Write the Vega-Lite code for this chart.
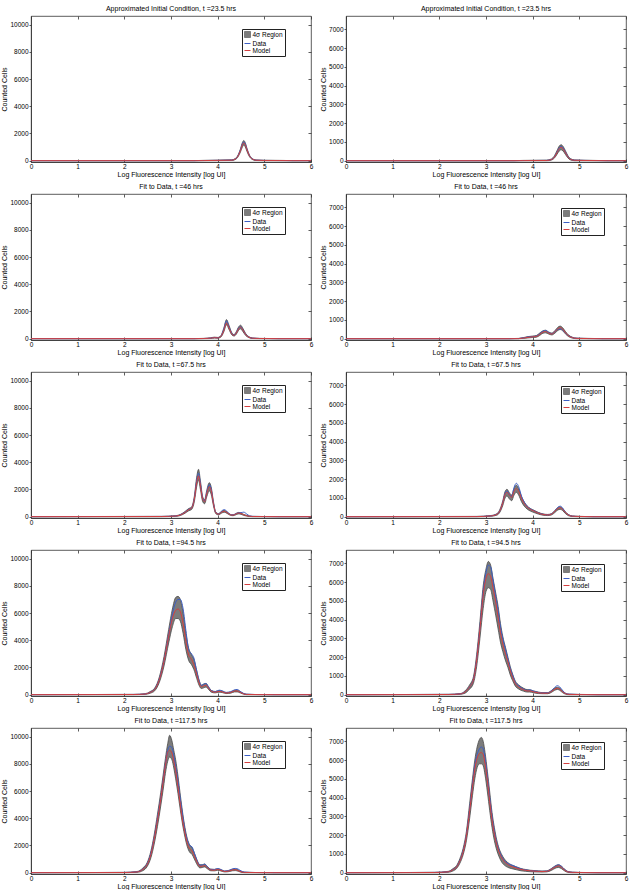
{
"$schema": "https://vega.github.io/schema/vega-lite/v6.json",
"background": "white",
"padding": {"left": 0, "top": 4, "right": 6, "bottom": 0},
"bounds": "flush",
"columns": 2,
"spacing": {"row": 32, "column": 35},
"resolve": {"scale": {"x": "independent", "y": "independent", "color": "independent"}},
"config": {
 "font": "Liberation Sans",
 "view": {"stroke": "#333", "strokeWidth": 0.8},
 "title": {"fontSize": 7, "fontWeight": "normal", "offset": 4, "color": "#000", "font": "Liberation Sans"},
 "axis": {"labelFontSize": 6.5, "titleFontSize": 7, "titleFontWeight": "normal", "grid": false, "domainColor": "#333", "domainWidth": 0.8, "tickColor": "#333", "tickWidth": 0.8, "labelColor": "#000", "titleColor": "#000", "labelFont": "Liberation Sans", "titleFont": "Liberation Sans", "labelOverlap": false, "labelSeparation": 0},
 "axisX": {"tickSize": -3, "labelPadding": 4, "titlePadding": 1, "labelFlush": false},
 "axisY": {"tickSize": 2, "labelPadding": 1, "titlePadding": 2},
 "legend": {"fillColor": "white", "strokeColor": "#222", "padding": 2, "labelFontSize": 6.5, "labelFont": "Liberation Sans", "labelColor": "#000", "symbolSize": 36, "rowPadding": 0, "labelOffset": 1.5, "symbolStrokeWidth": 1}
},
"concat": [
{
 "title": "Approximated Initial Condition, t =23.5 hrs",
 "width": 280, "height": 146,
 "data": {"values": [
  {"x":0,"lo":0,"hi":0,"d":0,"m":0},{"x":3.5,"lo":0,"hi":0,"d":0,"m":0},{"x":3.7,"lo":0,"hi":20,"d":10,"m":5},{"x":4.3,"lo":10,"hi":60,"d":40,"m":30},{"x":4.38,"lo":80,"hi":160,"d":130,"m":120},{"x":4.44,"lo":300,"hi":430,"d":390,"m":360},{"x":4.49,"lo":650,"hi":880,"d":820,"m":760},{"x":4.53,"lo":1000,"hi":1330,"d":1250,"m":1170},{"x":4.56,"lo":1150,"hi":1480,"d":1380,"m":1300},{"x":4.59,"lo":1020,"hi":1330,"d":1260,"m":1180},{"x":4.63,"lo":660,"hi":880,"d":830,"m":780},{"x":4.68,"lo":300,"hi":420,"d":390,"m":370},{"x":4.74,"lo":90,"hi":150,"d":130,"m":120},{"x":4.82,"lo":10,"hi":50,"d":35,"m":30},{"x":5.0,"lo":0,"hi":30,"d":15,"m":10},{"x":5.4,"lo":0,"hi":15,"d":5,"m":5},{"x":5.6,"lo":0,"hi":0,"d":0,"m":0},{"x":6,"lo":0,"hi":0,"d":0,"m":0}
 ]},
 "encoding": {"x": {"field": "x", "type": "quantitative", "scale": {"domain": [0, 6], "nice": false}, "axis": {"title": "Log Fluorescence Intensity [log UI]", "values": [0,1,2,3,4,5,6]}}},
 "resolve": {"axis": {"x": "independent", "y": "independent"}},
 "layer": [
  {"mark": {"type": "area", "interpolate": "monotone", "stroke": "#4a4a4a", "strokeWidth": 0.8, "opacity": 1},
   "encoding": {"y": {"field": "lo", "type": "quantitative", "title": "Counted Cells", "scale": {"domain": [-100, 10640], "nice": false}, "axis": {"values": [0,2000,4000,6000,8000,10000], "format": "d", "labelOverlap": false}}, "y2": {"field": "hi"},
    "color": {"datum": "4σ Region", "scale": {"domain": ["4σ Region", "Data", "Model"], "range": ["#7c7c7c", "#3d5fc4", "#d43f3f"]},
     "legend": {"title": null, "orient": "none", "legendX": 211, "legendY": 13, "encoding": {"symbols": {"shape": {"condition": {"test": "datum.value === '4σ Region'", "value": "square"}, "value": "stroke"}, "fill": {"condition": {"test": "datum.value === '4σ Region'", "value": "#6e6e6e"}, "value": "transparent"}, "stroke": {"condition": [{"test": "datum.value === '4σ Region'", "value": "#222"}, {"test": "datum.value === 'Data'", "value": "#3d5fc4"}], "value": "#d43f3f"}}}}}}},
  {"mark": {"type": "line", "interpolate": "monotone", "strokeWidth": 1}, "encoding": {"x": {"field": "x", "type": "quantitative", "axis": {"orient": "top", "labels": false, "title": null, "domain": false, "tickSize": -3, "values": [0,1,2,3,4,5,6]}}, "y": {"field": "d", "type": "quantitative", "axis": {"orient": "right", "labels": false, "title": null, "domain": false, "tickSize": -3, "values": [0,2000,4000,6000,8000,10000]}}, "color": {"datum": "Data"}}},
  {"mark": {"type": "line", "interpolate": "monotone", "strokeWidth": 1}, "encoding": {"x": {"field": "x", "type": "quantitative", "axis": null}, "y": {"field": "m", "type": "quantitative", "axis": null}, "color": {"datum": "Model"}}}
 ]
},
{
 "title": "Approximated Initial Condition, t =23.5 hrs",
 "width": 280, "height": 146,
 "data": {"values": [
  {"x":0,"lo":0,"hi":0,"d":0,"m":0},{"x":3.6,"lo":0,"hi":0,"d":0,"m":0},{"x":3.8,"lo":0,"hi":15,"d":8,"m":5},{"x":4.3,"lo":0,"hi":30,"d":15,"m":10},{"x":4.4,"lo":30,"hi":90,"d":60,"m":55},{"x":4.47,"lo":150,"hi":280,"d":220,"m":200},{"x":4.52,"lo":330,"hi":530,"d":450,"m":420},{"x":4.57,"lo":520,"hi":780,"d":690,"m":650},{"x":4.61,"lo":580,"hi":850,"d":760,"m":710},{"x":4.65,"lo":520,"hi":770,"d":690,"m":640},{"x":4.7,"lo":340,"hi":540,"d":470,"m":440},{"x":4.75,"lo":160,"hi":290,"d":240,"m":220},{"x":4.81,"lo":40,"hi":110,"d":80,"m":70},{"x":4.9,"lo":0,"hi":40,"d":25,"m":20},{"x":5.1,"lo":0,"hi":25,"d":15,"m":10},{"x":5.4,"lo":0,"hi":10,"d":5,"m":5},{"x":5.6,"lo":0,"hi":0,"d":0,"m":0},{"x":6,"lo":0,"hi":0,"d":0,"m":0}
 ]},
 "encoding": {"x": {"field": "x", "type": "quantitative", "scale": {"domain": [0, 6], "nice": false}, "axis": {"title": "Log Fluorescence Intensity [log UI]", "values": [0,1,2,3,4,5,6]}}},
 "resolve": {"axis": {"x": "independent", "y": "independent"}},
 "layer": [
  {"mark": {"type": "area", "interpolate": "monotone", "stroke": "#4a4a4a", "strokeWidth": 0.8, "opacity": 1},
   "encoding": {"y": {"field": "lo", "type": "quantitative", "title": "Counted Cells", "scale": {"domain": [-70, 7710], "nice": false}, "axis": {"values": [0,1000,2000,3000,4000,5000,6000,7000], "format": "d", "labelOverlap": false}}, "y2": {"field": "hi"},
    "color": {"datum": "4σ Region", "scale": {"domain": ["4σ Region", "Data", "Model"], "range": ["#7c7c7c", "#3d5fc4", "#d43f3f"]}, "legend": null}}},
  {"mark": {"type": "line", "interpolate": "monotone", "strokeWidth": 1}, "encoding": {"x": {"field": "x", "type": "quantitative", "axis": {"orient": "top", "labels": false, "title": null, "domain": false, "tickSize": -3, "values": [0,1,2,3,4,5,6]}}, "y": {"field": "d", "type": "quantitative", "axis": {"orient": "right", "labels": false, "title": null, "domain": false, "tickSize": -3, "values": [0,1000,2000,3000,4000,5000,6000,7000]}}, "color": {"datum": "Data", "legend": null}}},
  {"mark": {"type": "line", "interpolate": "monotone", "strokeWidth": 1}, "encoding": {"x": {"field": "x", "type": "quantitative", "axis": null}, "y": {"field": "m", "type": "quantitative", "axis": null}, "color": {"datum": "Model", "legend": null}}}
 ]
},
{
 "title": "Fit to Data, t =46 hrs",
 "width": 280, "height": 146,
 "data": {"values": [
  {"x":0,"lo":0,"hi":0,"d":0,"m":0},{"x":3.5,"lo":0,"hi":0,"d":0,"m":0},{"x":3.7,"lo":0,"hi":20,"d":10,"m":10},{"x":3.85,"lo":10,"hi":60,"d":40,"m":35},{"x":3.93,"lo":40,"hi":110,"d":80,"m":70},{"x":4.0,"lo":30,"hi":90,"d":60,"m":55},{"x":4.07,"lo":120,"hi":230,"d":180,"m":170},{"x":4.13,"lo":480,"hi":760,"d":680,"m":580},{"x":4.19,"lo":1020,"hi":1400,"d":1310,"m":1150},{"x":4.24,"lo":700,"hi":1000,"d":900,"m":820},{"x":4.3,"lo":290,"hi":460,"d":390,"m":360},{"x":4.35,"lo":190,"hi":300,"d":250,"m":240},{"x":4.4,"lo":330,"hi":520,"d":450,"m":420},{"x":4.45,"lo":620,"hi":870,"d":780,"m":730},{"x":4.49,"lo":720,"hi":990,"d":880,"m":840},{"x":4.54,"lo":520,"hi":760,"d":660,"m":640},{"x":4.6,"lo":230,"hi":380,"d":310,"m":300},{"x":4.67,"lo":70,"hi":140,"d":110,"m":100},{"x":4.75,"lo":10,"hi":50,"d":35,"m":30},{"x":4.9,"lo":0,"hi":20,"d":10,"m":10},{"x":5.1,"lo":0,"hi":10,"d":5,"m":5},{"x":5.3,"lo":0,"hi":0,"d":0,"m":0},{"x":6,"lo":0,"hi":0,"d":0,"m":0}
 ]},
 "encoding": {"x": {"field": "x", "type": "quantitative", "scale": {"domain": [0, 6], "nice": false}, "axis": {"title": "Log Fluorescence Intensity [log UI]", "values": [0,1,2,3,4,5,6]}}},
 "resolve": {"axis": {"x": "independent", "y": "independent"}},
 "layer": [
  {"mark": {"type": "area", "interpolate": "monotone", "stroke": "#4a4a4a", "strokeWidth": 0.8, "opacity": 1},
   "encoding": {"y": {"field": "lo", "type": "quantitative", "title": "Counted Cells", "scale": {"domain": [-100, 10640], "nice": false}, "axis": {"values": [0,2000,4000,6000,8000,10000], "format": "d", "labelOverlap": false}}, "y2": {"field": "hi"},
    "color": {"datum": "4σ Region", "scale": {"domain": ["4σ Region", "Data", "Model"], "range": ["#7c7c7c", "#3d5fc4", "#d43f3f"]},
     "legend": {"title": null, "orient": "none", "legendX": 211, "legendY": 13, "encoding": {"symbols": {"shape": {"condition": {"test": "datum.value === '4σ Region'", "value": "square"}, "value": "stroke"}, "fill": {"condition": {"test": "datum.value === '4σ Region'", "value": "#6e6e6e"}, "value": "transparent"}, "stroke": {"condition": [{"test": "datum.value === '4σ Region'", "value": "#222"}, {"test": "datum.value === 'Data'", "value": "#3d5fc4"}], "value": "#d43f3f"}}}}}}},
  {"mark": {"type": "line", "interpolate": "monotone", "strokeWidth": 1}, "encoding": {"x": {"field": "x", "type": "quantitative", "axis": {"orient": "top", "labels": false, "title": null, "domain": false, "tickSize": -3, "values": [0,1,2,3,4,5,6]}}, "y": {"field": "d", "type": "quantitative", "axis": {"orient": "right", "labels": false, "title": null, "domain": false, "tickSize": -3, "values": [0,2000,4000,6000,8000,10000]}}, "color": {"datum": "Data"}}},
  {"mark": {"type": "line", "interpolate": "monotone", "strokeWidth": 1}, "encoding": {"x": {"field": "x", "type": "quantitative", "axis": null}, "y": {"field": "m", "type": "quantitative", "axis": null}, "color": {"datum": "Model"}}}
 ]
},
{
 "title": "Fit to Data, t =46 hrs",
 "width": 280, "height": 146,
 "data": {"values": [
  {"x":0,"lo":0,"hi":0,"d":0,"m":0},{"x":3.5,"lo":0,"hi":0,"d":0,"m":0},{"x":3.7,"lo":0,"hi":15,"d":8,"m":5},{"x":3.9,"lo":40,"hi":110,"d":90,"m":70},{"x":4.0,"lo":60,"hi":140,"d":110,"m":100},{"x":4.08,"lo":80,"hi":170,"d":140,"m":120},{"x":4.15,"lo":170,"hi":300,"d":260,"m":230},{"x":4.22,"lo":290,"hi":420,"d":400,"m":350},{"x":4.28,"lo":310,"hi":450,"d":440,"m":380},{"x":4.34,"lo":250,"hi":360,"d":340,"m":300},{"x":4.41,"lo":200,"hi":300,"d":270,"m":250},{"x":4.48,"lo":300,"hi":440,"d":390,"m":380},{"x":4.54,"lo":440,"hi":610,"d":500,"m":530},{"x":4.59,"lo":490,"hi":670,"d":530,"m":590},{"x":4.64,"lo":430,"hi":590,"d":470,"m":520},{"x":4.7,"lo":260,"hi":390,"d":320,"m":330},{"x":4.77,"lo":110,"hi":190,"d":160,"m":150},{"x":4.85,"lo":30,"hi":80,"d":60,"m":55},{"x":4.95,"lo":0,"hi":30,"d":20,"m":15},{"x":5.2,"lo":0,"hi":15,"d":8,"m":5},{"x":5.5,"lo":0,"hi":0,"d":0,"m":0},{"x":6,"lo":0,"hi":0,"d":0,"m":0}
 ]},
 "encoding": {"x": {"field": "x", "type": "quantitative", "scale": {"domain": [0, 6], "nice": false}, "axis": {"title": "Log Fluorescence Intensity [log UI]", "values": [0,1,2,3,4,5,6]}}},
 "resolve": {"axis": {"x": "independent", "y": "independent"}},
 "layer": [
  {"mark": {"type": "area", "interpolate": "monotone", "stroke": "#4a4a4a", "strokeWidth": 0.8, "opacity": 1},
   "encoding": {"y": {"field": "lo", "type": "quantitative", "title": "Counted Cells", "scale": {"domain": [-70, 7710], "nice": false}, "axis": {"values": [0,1000,2000,3000,4000,5000,6000,7000], "format": "d", "labelOverlap": false}}, "y2": {"field": "hi"},
    "color": {"datum": "4σ Region", "scale": {"domain": ["4σ Region", "Data", "Model"], "range": ["#7c7c7c", "#3d5fc4", "#d43f3f"]},
     "legend": {"title": null, "orient": "none", "legendX": 215, "legendY": 14, "encoding": {"symbols": {"shape": {"condition": {"test": "datum.value === '4σ Region'", "value": "square"}, "value": "stroke"}, "fill": {"condition": {"test": "datum.value === '4σ Region'", "value": "#6e6e6e"}, "value": "transparent"}, "stroke": {"condition": [{"test": "datum.value === '4σ Region'", "value": "#222"}, {"test": "datum.value === 'Data'", "value": "#3d5fc4"}], "value": "#d43f3f"}}}}}}},
  {"mark": {"type": "line", "interpolate": "monotone", "strokeWidth": 1}, "encoding": {"x": {"field": "x", "type": "quantitative", "axis": {"orient": "top", "labels": false, "title": null, "domain": false, "tickSize": -3, "values": [0,1,2,3,4,5,6]}}, "y": {"field": "d", "type": "quantitative", "axis": {"orient": "right", "labels": false, "title": null, "domain": false, "tickSize": -3, "values": [0,1000,2000,3000,4000,5000,6000,7000]}}, "color": {"datum": "Data"}}},
  {"mark": {"type": "line", "interpolate": "monotone", "strokeWidth": 1}, "encoding": {"x": {"field": "x", "type": "quantitative", "axis": null}, "y": {"field": "m", "type": "quantitative", "axis": null}, "color": {"datum": "Model"}}}
 ]
},
{
 "title": "Fit to Data, t =67.5 hrs",
 "width": 280, "height": 146,
 "data": {"values": [
  {"x":0,"lo":0,"hi":0,"d":0,"m":0},{"x":2.8,"lo":0,"hi":20,"d":15,"m":10},{"x":3.1,"lo":20,"hi":70,"d":50,"m":45},{"x":3.2,"lo":80,"hi":160,"d":130,"m":120},{"x":3.3,"lo":250,"hi":380,"d":330,"m":310},{"x":3.38,"lo":430,"hi":600,"d":540,"m":520},{"x":3.44,"lo":520,"hi":700,"d":640,"m":620},{"x":3.5,"lo":1100,"hi":1500,"d":1350,"m":1300},{"x":3.55,"lo":2200,"hi":2900,"d":2650,"m":2500},{"x":3.59,"lo":2700,"hi":3480,"d":3200,"m":3000},{"x":3.63,"lo":2000,"hi":2650,"d":2450,"m":2300},{"x":3.68,"lo":1100,"hi":1450,"d":1350,"m":1280},{"x":3.72,"lo":950,"hi":1250,"d":1150,"m":1100},{"x":3.77,"lo":1500,"hi":2000,"d":1850,"m":1750},{"x":3.82,"lo":1900,"hi":2500,"d":2350,"m":2200},{"x":3.86,"lo":1650,"hi":2200,"d":2050,"m":1950},{"x":3.91,"lo":800,"hi":1100,"d":1000,"m":950},{"x":3.96,"lo":220,"hi":330,"d":300,"m":280},{"x":4.02,"lo":130,"hi":220,"d":190,"m":180},{"x":4.08,"lo":250,"hi":380,"d":400,"m":320},{"x":4.14,"lo":330,"hi":460,"d":520,"m":400},{"x":4.2,"lo":240,"hi":350,"d":380,"m":300},{"x":4.27,"lo":100,"hi":170,"d":160,"m":140},{"x":4.33,"lo":70,"hi":130,"d":130,"m":110},{"x":4.4,"lo":150,"hi":250,"d":230,"m":210},{"x":4.45,"lo":200,"hi":310,"d":280,"m":260},{"x":4.5,"lo":170,"hi":270,"d":290,"m":230},{"x":4.56,"lo":90,"hi":160,"d":330,"m":140},{"x":4.62,"lo":40,"hi":90,"d":200,"m":70},{"x":4.68,"lo":10,"hi":40,"d":60,"m":30},{"x":4.75,"lo":0,"hi":20,"d":20,"m":10},{"x":5.0,"lo":0,"hi":10,"d":5,"m":5},{"x":5.3,"lo":0,"hi":0,"d":0,"m":0},{"x":6,"lo":0,"hi":0,"d":0,"m":0}
 ]},
 "encoding": {"x": {"field": "x", "type": "quantitative", "scale": {"domain": [0, 6], "nice": false}, "axis": {"title": "Log Fluorescence Intensity [log UI]", "values": [0,1,2,3,4,5,6]}}},
 "resolve": {"axis": {"x": "independent", "y": "independent"}},
 "layer": [
  {"mark": {"type": "area", "interpolate": "monotone", "stroke": "#4a4a4a", "strokeWidth": 0.8, "opacity": 1},
   "encoding": {"y": {"field": "lo", "type": "quantitative", "title": "Counted Cells", "scale": {"domain": [-100, 10640], "nice": false}, "axis": {"values": [0,2000,4000,6000,8000,10000], "format": "d", "labelOverlap": false}}, "y2": {"field": "hi"},
    "color": {"datum": "4σ Region", "scale": {"domain": ["4σ Region", "Data", "Model"], "range": ["#7c7c7c", "#3d5fc4", "#d43f3f"]},
     "legend": {"title": null, "orient": "none", "legendX": 211, "legendY": 13, "encoding": {"symbols": {"shape": {"condition": {"test": "datum.value === '4σ Region'", "value": "square"}, "value": "stroke"}, "fill": {"condition": {"test": "datum.value === '4σ Region'", "value": "#6e6e6e"}, "value": "transparent"}, "stroke": {"condition": [{"test": "datum.value === '4σ Region'", "value": "#222"}, {"test": "datum.value === 'Data'", "value": "#3d5fc4"}], "value": "#d43f3f"}}}}}}},
  {"mark": {"type": "line", "interpolate": "monotone", "strokeWidth": 1}, "encoding": {"x": {"field": "x", "type": "quantitative", "axis": {"orient": "top", "labels": false, "title": null, "domain": false, "tickSize": -3, "values": [0,1,2,3,4,5,6]}}, "y": {"field": "d", "type": "quantitative", "axis": {"orient": "right", "labels": false, "title": null, "domain": false, "tickSize": -3, "values": [0,2000,4000,6000,8000,10000]}}, "color": {"datum": "Data"}}},
  {"mark": {"type": "line", "interpolate": "monotone", "strokeWidth": 1}, "encoding": {"x": {"field": "x", "type": "quantitative", "axis": null}, "y": {"field": "m", "type": "quantitative", "axis": null}, "color": {"datum": "Model"}}}
 ]
},
{
 "title": "Fit to Data, t =67.5 hrs",
 "width": 280, "height": 146,
 "data": {"values": [
  {"x":0,"lo":0,"hi":0,"d":0,"m":0},{"x":2.8,"lo":0,"hi":15,"d":10,"m":5},{"x":3.1,"lo":20,"hi":60,"d":45,"m":40},{"x":3.24,"lo":90,"hi":170,"d":140,"m":130},{"x":3.3,"lo":250,"hi":400,"d":340,"m":330},{"x":3.36,"lo":600,"hi":850,"d":760,"m":740},{"x":3.41,"lo":1000,"hi":1350,"d":1250,"m":1200},{"x":3.45,"lo":1100,"hi":1460,"d":1380,"m":1300},{"x":3.5,"lo":950,"hi":1280,"d":1180,"m":1150},{"x":3.55,"lo":850,"hi":1150,"d":1080,"m":1030},{"x":3.6,"lo":1150,"hi":1500,"d":1550,"m":1350},{"x":3.65,"lo":1300,"hi":1680,"d":1780,"m":1500},{"x":3.7,"lo":1150,"hi":1500,"d":1600,"m":1350},{"x":3.76,"lo":800,"hi":1080,"d":1100,"m":980},{"x":3.82,"lo":560,"hi":780,"d":780,"m":700},{"x":3.88,"lo":410,"hi":580,"d":560,"m":520},{"x":3.95,"lo":300,"hi":440,"d":420,"m":390},{"x":4.03,"lo":220,"hi":340,"d":320,"m":300},{"x":4.12,"lo":140,"hi":230,"d":200,"m":190},{"x":4.22,"lo":80,"hi":150,"d":130,"m":120},{"x":4.32,"lo":60,"hi":120,"d":100,"m":95},{"x":4.4,"lo":90,"hi":160,"d":140,"m":130},{"x":4.48,"lo":230,"hi":340,"d":320,"m":300},{"x":4.54,"lo":360,"hi":490,"d":500,"m":440},{"x":4.59,"lo":390,"hi":520,"d":560,"m":470},{"x":4.64,"lo":330,"hi":450,"d":470,"m":400},{"x":4.7,"lo":170,"hi":260,"d":240,"m":230},{"x":4.77,"lo":50,"hi":110,"d":90,"m":85},{"x":4.85,"lo":10,"hi":40,"d":30,"m":25},{"x":5.0,"lo":0,"hi":20,"d":10,"m":10},{"x":5.3,"lo":0,"hi":0,"d":0,"m":0},{"x":6,"lo":0,"hi":0,"d":0,"m":0}
 ]},
 "encoding": {"x": {"field": "x", "type": "quantitative", "scale": {"domain": [0, 6], "nice": false}, "axis": {"title": "Log Fluorescence Intensity [log UI]", "values": [0,1,2,3,4,5,6]}}},
 "resolve": {"axis": {"x": "independent", "y": "independent"}},
 "layer": [
  {"mark": {"type": "area", "interpolate": "monotone", "stroke": "#4a4a4a", "strokeWidth": 0.8, "opacity": 1},
   "encoding": {"y": {"field": "lo", "type": "quantitative", "title": "Counted Cells", "scale": {"domain": [-70, 7710], "nice": false}, "axis": {"values": [0,1000,2000,3000,4000,5000,6000,7000], "format": "d", "labelOverlap": false}}, "y2": {"field": "hi"},
    "color": {"datum": "4σ Region", "scale": {"domain": ["4σ Region", "Data", "Model"], "range": ["#7c7c7c", "#3d5fc4", "#d43f3f"]},
     "legend": {"title": null, "orient": "none", "legendX": 215, "legendY": 14, "encoding": {"symbols": {"shape": {"condition": {"test": "datum.value === '4σ Region'", "value": "square"}, "value": "stroke"}, "fill": {"condition": {"test": "datum.value === '4σ Region'", "value": "#6e6e6e"}, "value": "transparent"}, "stroke": {"condition": [{"test": "datum.value === '4σ Region'", "value": "#222"}, {"test": "datum.value === 'Data'", "value": "#3d5fc4"}], "value": "#d43f3f"}}}}}}},
  {"mark": {"type": "line", "interpolate": "monotone", "strokeWidth": 1}, "encoding": {"x": {"field": "x", "type": "quantitative", "axis": {"orient": "top", "labels": false, "title": null, "domain": false, "tickSize": -3, "values": [0,1,2,3,4,5,6]}}, "y": {"field": "d", "type": "quantitative", "axis": {"orient": "right", "labels": false, "title": null, "domain": false, "tickSize": -3, "values": [0,1000,2000,3000,4000,5000,6000,7000]}}, "color": {"datum": "Data"}}},
  {"mark": {"type": "line", "interpolate": "monotone", "strokeWidth": 1}, "encoding": {"x": {"field": "x", "type": "quantitative", "axis": null}, "y": {"field": "m", "type": "quantitative", "axis": null}, "color": {"datum": "Model"}}}
 ]
},
{
 "title": "Fit to Data, t =94.5 hrs",
 "width": 280, "height": 146,
 "data": {"values": [
  {"x":0,"lo":0,"hi":0,"d":0,"m":0},{"x":1.4,"lo":0,"hi":10,"d":10,"m":5},{"x":2.2,"lo":0,"hi":20,"d":15,"m":10},{"x":2.45,"lo":20,"hi":70,"d":50,"m":45},{"x":2.55,"lo":100,"hi":220,"d":170,"m":160},{"x":2.65,"lo":280,"hi":480,"d":400,"m":380},{"x":2.75,"lo":900,"hi":1300,"d":1150,"m":1100},{"x":2.85,"lo":2100,"hi":2800,"d":2500,"m":2450},{"x":2.95,"lo":3800,"hi":4800,"d":4400,"m":4300},{"x":3.03,"lo":5000,"hi":6300,"d":5900,"m":5600},{"x":3.1,"lo":5600,"hi":7150,"d":6800,"m":6200},{"x":3.15,"lo":5600,"hi":7230,"d":7000,"m":6300},{"x":3.2,"lo":5400,"hi":7000,"d":7000,"m":6100},{"x":3.26,"lo":4500,"hi":6000,"d":6300,"m":5200},{"x":3.32,"lo":3300,"hi":4500,"d":4700,"m":3900},{"x":3.38,"lo":2500,"hi":3400,"d":3300,"m":2900},{"x":3.44,"lo":2200,"hi":2950,"d":3000,"m":2600},{"x":3.49,"lo":1850,"hi":2600,"d":2700,"m":2200},{"x":3.55,"lo":1200,"hi":1800,"d":1750,"m":1500},{"x":3.6,"lo":700,"hi":1100,"d":1050,"m":900},{"x":3.65,"lo":450,"hi":700,"d":680,"m":580},{"x":3.7,"lo":500,"hi":780,"d":760,"m":640},{"x":3.75,"lo":560,"hi":830,"d":820,"m":700},{"x":3.8,"lo":400,"hi":600,"d":580,"m":500},{"x":3.87,"lo":170,"hi":300,"d":280,"m":240},{"x":3.95,"lo":130,"hi":230,"d":220,"m":180},{"x":4.03,"lo":180,"hi":300,"d":330,"m":240},{"x":4.1,"lo":150,"hi":250,"d":280,"m":200},{"x":4.18,"lo":80,"hi":160,"d":160,"m":120},{"x":4.28,"lo":110,"hi":200,"d":220,"m":160},{"x":4.36,"lo":200,"hi":320,"d":350,"m":270},{"x":4.42,"lo":200,"hi":330,"d":380,"m":270},{"x":4.48,"lo":130,"hi":230,"d":250,"m":180},{"x":4.55,"lo":40,"hi":90,"d":100,"m":60},{"x":4.62,"lo":0,"hi":30,"d":30,"m":15},{"x":4.8,"lo":0,"hi":10,"d":10,"m":5},{"x":5.2,"lo":0,"hi":0,"d":0,"m":0},{"x":6,"lo":0,"hi":0,"d":0,"m":0}
 ]},
 "encoding": {"x": {"field": "x", "type": "quantitative", "scale": {"domain": [0, 6], "nice": false}, "axis": {"title": "Log Fluorescence Intensity [log UI]", "values": [0,1,2,3,4,5,6]}}},
 "resolve": {"axis": {"x": "independent", "y": "independent"}},
 "layer": [
  {"mark": {"type": "area", "interpolate": "monotone", "stroke": "#4a4a4a", "strokeWidth": 0.8, "opacity": 1},
   "encoding": {"y": {"field": "lo", "type": "quantitative", "title": "Counted Cells", "scale": {"domain": [-100, 10640], "nice": false}, "axis": {"values": [0,2000,4000,6000,8000,10000], "format": "d", "labelOverlap": false}}, "y2": {"field": "hi"},
    "color": {"datum": "4σ Region", "scale": {"domain": ["4σ Region", "Data", "Model"], "range": ["#7c7c7c", "#3d5fc4", "#d43f3f"]},
     "legend": {"title": null, "orient": "none", "legendX": 211, "legendY": 13, "encoding": {"symbols": {"shape": {"condition": {"test": "datum.value === '4σ Region'", "value": "square"}, "value": "stroke"}, "fill": {"condition": {"test": "datum.value === '4σ Region'", "value": "#6e6e6e"}, "value": "transparent"}, "stroke": {"condition": [{"test": "datum.value === '4σ Region'", "value": "#222"}, {"test": "datum.value === 'Data'", "value": "#3d5fc4"}], "value": "#d43f3f"}}}}}}},
  {"mark": {"type": "line", "interpolate": "monotone", "strokeWidth": 1}, "encoding": {"x": {"field": "x", "type": "quantitative", "axis": {"orient": "top", "labels": false, "title": null, "domain": false, "tickSize": -3, "values": [0,1,2,3,4,5,6]}}, "y": {"field": "d", "type": "quantitative", "axis": {"orient": "right", "labels": false, "title": null, "domain": false, "tickSize": -3, "values": [0,2000,4000,6000,8000,10000]}}, "color": {"datum": "Data"}}},
  {"mark": {"type": "line", "interpolate": "monotone", "strokeWidth": 1}, "encoding": {"x": {"field": "x", "type": "quantitative", "axis": null}, "y": {"field": "m", "type": "quantitative", "axis": null}, "color": {"datum": "Model"}}}
 ]
},
{
 "title": "Fit to Data, t =94.5 hrs",
 "width": 280, "height": 146,
 "data": {"values": [
  {"x":0,"lo":0,"hi":0,"d":0,"m":0},{"x":1.4,"lo":0,"hi":10,"d":10,"m":5},{"x":2.2,"lo":0,"hi":20,"d":15,"m":10},{"x":2.45,"lo":20,"hi":60,"d":45,"m":40},{"x":2.55,"lo":80,"hi":200,"d":150,"m":140},{"x":2.65,"lo":300,"hi":530,"d":430,"m":420},{"x":2.73,"lo":600,"hi":950,"d":800,"m":780},{"x":2.8,"lo":1500,"hi":2150,"d":1900,"m":1850},{"x":2.87,"lo":3000,"hi":3900,"d":3600,"m":3500},{"x":2.94,"lo":4600,"hi":5800,"d":5500,"m":5300},{"x":3.0,"lo":5500,"hi":6700,"d":6500,"m":6200},{"x":3.05,"lo":5700,"hi":7100,"d":6900,"m":6450},{"x":3.1,"lo":5600,"hi":6900,"d":6800,"m":6300},{"x":3.15,"lo":5000,"hi":6200,"d":6100,"m":5700},{"x":3.21,"lo":4200,"hi":5400,"d":5200,"m":4900},{"x":3.26,"lo":3500,"hi":4700,"d":4500,"m":4100},{"x":3.31,"lo":2800,"hi":3800,"d":3600,"m":3300},{"x":3.36,"lo":2300,"hi":3100,"d":3000,"m":2700},{"x":3.42,"lo":1800,"hi":2500,"d":2400,"m":2150},{"x":3.47,"lo":1450,"hi":2000,"d":1900,"m":1750},{"x":3.52,"lo":1050,"hi":1500,"d":1400,"m":1280},{"x":3.57,"lo":750,"hi":1100,"d":1050,"m":920},{"x":3.63,"lo":450,"hi":720,"d":650,"m":580},{"x":3.7,"lo":300,"hi":520,"d":480,"m":400},{"x":3.8,"lo":190,"hi":350,"d":300,"m":270},{"x":3.88,"lo":140,"hi":270,"d":230,"m":200},{"x":3.94,"lo":140,"hi":260,"d":260,"m":200},{"x":4.02,"lo":100,"hi":200,"d":190,"m":150},{"x":4.12,"lo":60,"hi":140,"d":120,"m":100},{"x":4.22,"lo":50,"hi":110,"d":90,"m":80},{"x":4.32,"lo":50,"hi":110,"d":100,"m":80},{"x":4.4,"lo":120,"hi":220,"d":200,"m":170},{"x":4.47,"lo":230,"hi":350,"d":380,"m":290},{"x":4.53,"lo":280,"hi":400,"d":480,"m":340},{"x":4.58,"lo":230,"hi":350,"d":410,"m":290},{"x":4.64,"lo":110,"hi":200,"d":230,"m":160},{"x":4.7,"lo":30,"hi":80,"d":80,"m":60},{"x":4.78,"lo":0,"hi":30,"d":25,"m":15},{"x":5.0,"lo":0,"hi":15,"d":10,"m":5},{"x":5.4,"lo":0,"hi":0,"d":0,"m":0},{"x":6,"lo":0,"hi":0,"d":0,"m":0}
 ]},
 "encoding": {"x": {"field": "x", "type": "quantitative", "scale": {"domain": [0, 6], "nice": false}, "axis": {"title": "Log Fluorescence Intensity [log UI]", "values": [0,1,2,3,4,5,6]}}},
 "resolve": {"axis": {"x": "independent", "y": "independent"}},
 "layer": [
  {"mark": {"type": "area", "interpolate": "monotone", "stroke": "#4a4a4a", "strokeWidth": 0.8, "opacity": 1},
   "encoding": {"y": {"field": "lo", "type": "quantitative", "title": "Counted Cells", "scale": {"domain": [-70, 7710], "nice": false}, "axis": {"values": [0,1000,2000,3000,4000,5000,6000,7000], "format": "d", "labelOverlap": false}}, "y2": {"field": "hi"},
    "color": {"datum": "4σ Region", "scale": {"domain": ["4σ Region", "Data", "Model"], "range": ["#7c7c7c", "#3d5fc4", "#d43f3f"]},
     "legend": {"title": null, "orient": "none", "legendX": 215, "legendY": 14, "encoding": {"symbols": {"shape": {"condition": {"test": "datum.value === '4σ Region'", "value": "square"}, "value": "stroke"}, "fill": {"condition": {"test": "datum.value === '4σ Region'", "value": "#6e6e6e"}, "value": "transparent"}, "stroke": {"condition": [{"test": "datum.value === '4σ Region'", "value": "#222"}, {"test": "datum.value === 'Data'", "value": "#3d5fc4"}], "value": "#d43f3f"}}}}}}},
  {"mark": {"type": "line", "interpolate": "monotone", "strokeWidth": 1}, "encoding": {"x": {"field": "x", "type": "quantitative", "axis": {"orient": "top", "labels": false, "title": null, "domain": false, "tickSize": -3, "values": [0,1,2,3,4,5,6]}}, "y": {"field": "d", "type": "quantitative", "axis": {"orient": "right", "labels": false, "title": null, "domain": false, "tickSize": -3, "values": [0,1000,2000,3000,4000,5000,6000,7000]}}, "color": {"datum": "Data"}}},
  {"mark": {"type": "line", "interpolate": "monotone", "strokeWidth": 1}, "encoding": {"x": {"field": "x", "type": "quantitative", "axis": null}, "y": {"field": "m", "type": "quantitative", "axis": null}, "color": {"datum": "Model"}}}
 ]
},
{
 "title": "Fit to Data, t =117.5 hrs",
 "width": 280, "height": 146,
 "data": {"values": [
  {"x":0,"lo":0,"hi":0,"d":0,"m":0},{"x":1.4,"lo":0,"hi":10,"d":10,"m":5},{"x":2.0,"lo":0,"hi":20,"d":15,"m":10},{"x":2.27,"lo":20,"hi":80,"d":60,"m":50},{"x":2.4,"lo":150,"hi":350,"d":280,"m":250},{"x":2.49,"lo":450,"hi":750,"d":650,"m":600},{"x":2.57,"lo":1100,"hi":1600,"d":1450,"m":1350},{"x":2.64,"lo":2100,"hi":2800,"d":2550,"m":2450},{"x":2.71,"lo":3400,"hi":4300,"d":4000,"m":3850},{"x":2.78,"lo":4900,"hi":5900,"d":5500,"m":5400},{"x":2.84,"lo":6300,"hi":7400,"d":7000,"m":6900},{"x":2.88,"lo":7300,"hi":8400,"d":8000,"m":7900},{"x":2.93,"lo":8200,"hi":9500,"d":9000,"m":8850},{"x":2.97,"lo":8500,"hi":10100,"d":9300,"m":9000},{"x":3.02,"lo":8300,"hi":9700,"d":9200,"m":8800},{"x":3.06,"lo":7700,"hi":9000,"d":8600,"m":8200},{"x":3.1,"lo":6900,"hi":8300,"d":7800,"m":7500},{"x":3.15,"lo":5800,"hi":7100,"d":6700,"m":6300},{"x":3.2,"lo":4600,"hi":5700,"d":5400,"m":5000},{"x":3.25,"lo":3500,"hi":4400,"d":4200,"m":3800},{"x":3.3,"lo":2600,"hi":3300,"d":3100,"m":2900},{"x":3.35,"lo":1900,"hi":2500,"d":2400,"m":2150},{"x":3.4,"lo":1500,"hi":2050,"d":2000,"m":1750},{"x":3.45,"lo":1350,"hi":1850,"d":1900,"m":1600},{"x":3.5,"lo":1000,"hi":1450,"d":1450,"m":1200},{"x":3.55,"lo":650,"hi":1000,"d":950,"m":830},{"x":3.62,"lo":350,"hi":580,"d":540,"m":460},{"x":3.67,"lo":380,"hi":580,"d":560,"m":470},{"x":3.72,"lo":420,"hi":640,"d":620,"m":520},{"x":3.78,"lo":280,"hi":450,"d":430,"m":360},{"x":3.85,"lo":140,"hi":260,"d":240,"m":200},{"x":3.93,"lo":130,"hi":240,"d":230,"m":180},{"x":4.0,"lo":170,"hi":290,"d":300,"m":230},{"x":4.07,"lo":120,"hi":220,"d":230,"m":170},{"x":4.15,"lo":50,"hi":120,"d":110,"m":85},{"x":4.25,"lo":80,"hi":170,"d":180,"m":130},{"x":4.32,"lo":140,"hi":250,"d":280,"m":200},{"x":4.38,"lo":150,"hi":270,"d":310,"m":210},{"x":4.44,"lo":100,"hi":200,"d":260,"m":150},{"x":4.5,"lo":30,"hi":90,"d":130,"m":60},{"x":4.58,"lo":0,"hi":30,"d":40,"m":15},{"x":4.8,"lo":0,"hi":10,"d":10,"m":5},{"x":5.2,"lo":0,"hi":0,"d":0,"m":0},{"x":6,"lo":0,"hi":0,"d":0,"m":0}
 ]},
 "encoding": {"x": {"field": "x", "type": "quantitative", "scale": {"domain": [0, 6], "nice": false}, "axis": {"title": "Log Fluorescence Intensity [log UI]", "values": [0,1,2,3,4,5,6]}}},
 "resolve": {"axis": {"x": "independent", "y": "independent"}},
 "layer": [
  {"mark": {"type": "area", "interpolate": "monotone", "stroke": "#4a4a4a", "strokeWidth": 0.8, "opacity": 1},
   "encoding": {"y": {"field": "lo", "type": "quantitative", "title": "Counted Cells", "scale": {"domain": [-100, 10640], "nice": false}, "axis": {"values": [0,2000,4000,6000,8000,10000], "format": "d", "labelOverlap": false}}, "y2": {"field": "hi"},
    "color": {"datum": "4σ Region", "scale": {"domain": ["4σ Region", "Data", "Model"], "range": ["#7c7c7c", "#3d5fc4", "#d43f3f"]},
     "legend": {"title": null, "orient": "none", "legendX": 211, "legendY": 13, "encoding": {"symbols": {"shape": {"condition": {"test": "datum.value === '4σ Region'", "value": "square"}, "value": "stroke"}, "fill": {"condition": {"test": "datum.value === '4σ Region'", "value": "#6e6e6e"}, "value": "transparent"}, "stroke": {"condition": [{"test": "datum.value === '4σ Region'", "value": "#222"}, {"test": "datum.value === 'Data'", "value": "#3d5fc4"}], "value": "#d43f3f"}}}}}}},
  {"mark": {"type": "line", "interpolate": "monotone", "strokeWidth": 1}, "encoding": {"x": {"field": "x", "type": "quantitative", "axis": {"orient": "top", "labels": false, "title": null, "domain": false, "tickSize": -3, "values": [0,1,2,3,4,5,6]}}, "y": {"field": "d", "type": "quantitative", "axis": {"orient": "right", "labels": false, "title": null, "domain": false, "tickSize": -3, "values": [0,2000,4000,6000,8000,10000]}}, "color": {"datum": "Data"}}},
  {"mark": {"type": "line", "interpolate": "monotone", "strokeWidth": 1}, "encoding": {"x": {"field": "x", "type": "quantitative", "axis": null}, "y": {"field": "m", "type": "quantitative", "axis": null}, "color": {"datum": "Model"}}}
 ]
},
{
 "title": "Fit to Data, t =117.5 hrs",
 "width": 280, "height": 146,
 "data": {"values": [
  {"x":0,"lo":0,"hi":0,"d":0,"m":0},{"x":1.4,"lo":0,"hi":10,"d":10,"m":5},{"x":1.9,"lo":0,"hi":20,"d":15,"m":10},{"x":2.19,"lo":20,"hi":70,"d":50,"m":45},{"x":2.3,"lo":100,"hi":230,"d":180,"m":170},{"x":2.37,"lo":220,"hi":380,"d":320,"m":300},{"x":2.44,"lo":500,"hi":750,"d":650,"m":620},{"x":2.51,"lo":950,"hi":1300,"d":1150,"m":1100},{"x":2.58,"lo":1700,"hi":2200,"d":2000,"m":1950},{"x":2.65,"lo":2900,"hi":3700,"d":3400,"m":3300},{"x":2.71,"lo":4100,"hi":5000,"d":4700,"m":4550},{"x":2.76,"lo":5000,"hi":6000,"d":5700,"m":5500},{"x":2.81,"lo":5600,"hi":6700,"d":6300,"m":6100},{"x":2.86,"lo":5800,"hi":7100,"d":6600,"m":6350},{"x":2.9,"lo":5800,"hi":7210,"d":6700,"m":6400},{"x":2.94,"lo":5700,"hi":7000,"d":6600,"m":6300},{"x":2.98,"lo":5200,"hi":6400,"d":6100,"m":5800},{"x":3.03,"lo":4300,"hi":5400,"d":5100,"m":4900},{"x":3.08,"lo":3300,"hi":4300,"d":4000,"m":3800},{"x":3.13,"lo":2400,"hi":3200,"d":3000,"m":2800},{"x":3.18,"lo":1700,"hi":2400,"d":2200,"m":2050},{"x":3.23,"lo":1200,"hi":1750,"d":1600,"m":1500},{"x":3.28,"lo":850,"hi":1300,"d":1200,"m":1100},{"x":3.34,"lo":550,"hi":950,"d":850,"m":780},{"x":3.42,"lo":350,"hi":650,"d":580,"m":520},{"x":3.5,"lo":250,"hi":480,"d":450,"m":380},{"x":3.58,"lo":200,"hi":380,"d":380,"m":300},{"x":3.66,"lo":150,"hi":300,"d":300,"m":240},{"x":3.75,"lo":100,"hi":220,"d":200,"m":170},{"x":3.85,"lo":70,"hi":170,"d":150,"m":130},{"x":3.95,"lo":50,"hi":130,"d":110,"m":100},{"x":4.05,"lo":40,"hi":110,"d":90,"m":80},{"x":4.2,"lo":30,"hi":90,"d":70,"m":60},{"x":4.3,"lo":40,"hi":100,"d":80,"m":70},{"x":4.4,"lo":120,"hi":220,"d":200,"m":180},{"x":4.48,"lo":230,"hi":360,"d":340,"m":300},{"x":4.55,"lo":280,"hi":420,"d":420,"m":360},{"x":4.62,"lo":210,"hi":340,"d":330,"m":280},{"x":4.68,"lo":100,"hi":190,"d":180,"m":150},{"x":4.75,"lo":20,"hi":70,"d":60,"m":45},{"x":4.85,"lo":0,"hi":30,"d":20,"m":15},{"x":5.1,"lo":0,"hi":10,"d":5,"m":5},{"x":5.4,"lo":0,"hi":0,"d":0,"m":0},{"x":6,"lo":0,"hi":0,"d":0,"m":0}
 ]},
 "encoding": {"x": {"field": "x", "type": "quantitative", "scale": {"domain": [0, 6], "nice": false}, "axis": {"title": "Log Fluorescence Intensity [log UI]", "values": [0,1,2,3,4,5,6]}}},
 "resolve": {"axis": {"x": "independent", "y": "independent"}},
 "layer": [
  {"mark": {"type": "area", "interpolate": "monotone", "stroke": "#4a4a4a", "strokeWidth": 0.8, "opacity": 1},
   "encoding": {"y": {"field": "lo", "type": "quantitative", "title": "Counted Cells", "scale": {"domain": [-70, 7710], "nice": false}, "axis": {"values": [0,1000,2000,3000,4000,5000,6000,7000], "format": "d", "labelOverlap": false}}, "y2": {"field": "hi"},
    "color": {"datum": "4σ Region", "scale": {"domain": ["4σ Region", "Data", "Model"], "range": ["#7c7c7c", "#3d5fc4", "#d43f3f"]},
     "legend": {"title": null, "orient": "none", "legendX": 215, "legendY": 14, "encoding": {"symbols": {"shape": {"condition": {"test": "datum.value === '4σ Region'", "value": "square"}, "value": "stroke"}, "fill": {"condition": {"test": "datum.value === '4σ Region'", "value": "#6e6e6e"}, "value": "transparent"}, "stroke": {"condition": [{"test": "datum.value === '4σ Region'", "value": "#222"}, {"test": "datum.value === 'Data'", "value": "#3d5fc4"}], "value": "#d43f3f"}}}}}}},
  {"mark": {"type": "line", "interpolate": "monotone", "strokeWidth": 1}, "encoding": {"x": {"field": "x", "type": "quantitative", "axis": {"orient": "top", "labels": false, "title": null, "domain": false, "tickSize": -3, "values": [0,1,2,3,4,5,6]}}, "y": {"field": "d", "type": "quantitative", "axis": {"orient": "right", "labels": false, "title": null, "domain": false, "tickSize": -3, "values": [0,1000,2000,3000,4000,5000,6000,7000]}}, "color": {"datum": "Data"}}},
  {"mark": {"type": "line", "interpolate": "monotone", "strokeWidth": 1}, "encoding": {"x": {"field": "x", "type": "quantitative", "axis": null}, "y": {"field": "m", "type": "quantitative", "axis": null}, "color": {"datum": "Model"}}}
 ]
}
]
}
